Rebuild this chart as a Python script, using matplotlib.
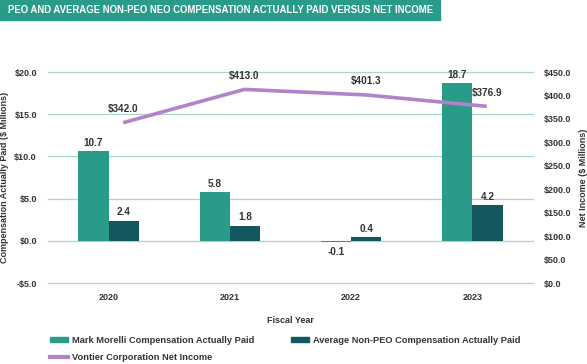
import matplotlib
matplotlib.use('Agg')
import numpy as np
import matplotlib.pyplot as plt
from matplotlib.patches import Patch, Rectangle
from matplotlib.lines import Line2D

years = ["2020", "2021", "2022", "2023"]
morelli = [10.7, 5.8, -0.1, 18.7]
non_peo = [2.4, 1.8, 0.4, 4.2]
net_income = [342.0, 413.0, 401.3, 376.9]

teal = "#299b89"
dark_teal = "#14585f"
purple = "#b283c6"
grid_col = "#a9d6ca"
txt = "#333333"

plt.rcParams['font.family'] = ['Liberation Sans', 'DejaVu Sans']
plt.rcParams['font.weight'] = 'bold'
plt.rcParams['axes.labelweight'] = 'bold'

fig = plt.figure(figsize=(5.87, 3.64), dpi=100)
ax = fig.add_axes([0.0818, 0.2225, 0.826, 0.5795])
ax2 = ax.twinx()

x = np.arange(len(years))
w = 0.25
ax.bar(x - w / 2, morelli, w, color=teal, zorder=3)
ax.bar(x + w / 2, non_peo, w, color=dark_teal, zorder=3)
for xi, v in zip(x, morelli):
    off = 0.9 if v >= 0 else -1.2
    ax.text(xi - w / 2, v + off, f"{v:.1f}", ha='center', va='center',
            fontsize=7.2, color=txt)
for xi, v in zip(x, non_peo):
    ax.text(xi + w / 2, v + 1.0, f"{v:.1f}", ha='center', va='center',
            fontsize=7.2, color=txt)

ax.set_ylim(-5, 20)
ax.set_xlim(-0.5, 3.5)
yt = [-5, 0, 5, 10, 15, 20]
ax.set_yticks(yt)
ax.set_yticklabels([f"${v:.1f}" if v >= 0 else f"-${-v:.1f}" for v in yt])
ax.grid(axis='y', color=grid_col, lw=0.9, zorder=0)
for gl in ax.get_ygridlines():
    gl.set_clip_on(False)
ax.set_xticks(x)
ax.set_xticklabels(years)
ax.tick_params(length=0, labelsize=6.5, colors=txt, pad=8)
ax.tick_params(axis='x', pad=7)
ax.set_ylabel("Compensation Actually Paid ($ Millions)", fontsize=6.5, color=txt, labelpad=4)
ax.set_xlabel("Fiscal Year", fontsize=6.5, color=txt, labelpad=10)

lx = x + 0.12
ax2.plot(lx, net_income, color=purple, lw=2.6, zorder=4, solid_capstyle='butt')
for xi, v in zip(lx, net_income):
    ax2.text(xi, v + 29, f"${v:.1f}", ha='center', va='center', fontsize=7.2, color=txt)
ax2.set_ylim(0, 450)
ax2.set_yticks(np.arange(0, 451, 50))
ax2.set_yticklabels([f"${v:.1f}" for v in np.arange(0, 451, 50)])
ax2.tick_params(length=0, labelsize=6.5, colors=txt, pad=8)
ax2.set_ylabel("Net Income ($ Millions)", fontsize=6.5, color=txt, rotation=90, labelpad=5)

for a in (ax, ax2):
    for s in a.spines.values():
        s.set_visible(False)
ax2.set_zorder(ax.get_zorder() + 1)
ax2.patch.set_visible(False)

# title banner
fig.patches.append(Rectangle((0, 1 - 20 / 364), 440 / 587, 20 / 364,
                             transform=fig.transFigure, color=teal, zorder=0))
fig.text(8 / 587, 1 - 10 / 364, "PEO AND AVERAGE NON-PEO NEO COMPENSATION ACTUALLY PAID VERSUS NET INCOME",
         color='white', fontsize=6.9, ha='left', va='center')

handles = [Patch(color=teal), Line2D([], [], color=purple, lw=3), Patch(color=dark_teal)]
labels = ["Mark Morelli Compensation Actually Paid", "Vontier Corporation Net Income",
          "Average Non-PEO Compensation Actually Paid"]
fig.legend(handles, labels, ncol=2, loc='upper left', bbox_to_anchor=(0.085, 0.078),
           frameon=False, fontsize=6.7, handlelength=1.9, handleheight=0.55,
           columnspacing=3.9, labelspacing=0.95, handletextpad=0.5,
           borderaxespad=0, borderpad=0, labelcolor=txt)

fig.savefig("out.png", dpi=100)
